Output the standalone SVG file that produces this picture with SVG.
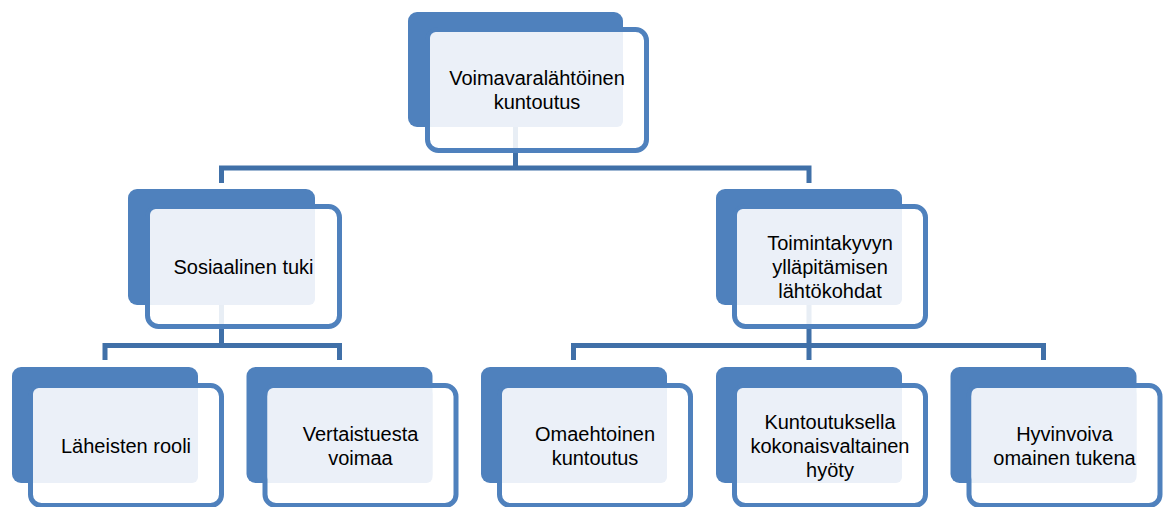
<svg xmlns="http://www.w3.org/2000/svg" width="1164" height="507" viewBox="0 0 1164 507">
  <style>
    .back { fill: #4F81BD; }
    .front { fill: #FFFFFF; fill-opacity: 0.88; stroke: #4F81BD; stroke-width: 5; }
    .light { fill: #EBF0F8; }
    .conn { fill: none; stroke: #4070A8; stroke-width: 5; stroke-linejoin: miter; }
    text { font-family: "Liberation Sans", Arial, sans-serif; font-size: 20px; fill: #000000; text-anchor: middle; }
  </style>
  <rect width="1164" height="507" fill="#FFFFFF"/>
  <g id="connectors">
    <path class="conn" d="M515.5,127 V168 M221.5,183 V168 H809 V183"/>
    <path class="conn" d="M221.5,305 V345.5 M105,360 V345.5 H339.5 V360"/>
    <path class="conn" d="M809,305 V360 M573.5,360 V345.5 H1043.5 V360"/>
  </g>
  <g id="node-top">
    <rect class="back" x="408" y="12" width="215" height="115" rx="9"/>
    <rect class="front" x="427.5" y="29.5" width="219" height="121" rx="11"/>
    <rect class="light" x="430" y="32" width="193" height="95" rx="6"/>
    <text x="537" y="85">Voimavaralähtöinen</text>
    <text x="537" y="109">kuntoutus</text>
  </g>
  <g id="node-sosiaalinen">
    <rect class="back" x="128" y="189" width="187" height="116" rx="9"/>
    <rect class="front" x="147.5" y="206.5" width="192" height="120" rx="11"/>
    <rect class="light" x="150" y="209" width="165" height="96" rx="6"/>
    <text x="243.5" y="273.5">Sosiaalinen tuki</text>
  </g>
  <g id="node-toimintakyky">
    <rect class="back" x="716" y="189" width="186" height="116" rx="9"/>
    <rect class="front" x="734.5" y="206.5" width="191" height="120" rx="11"/>
    <rect class="light" x="737" y="209" width="165" height="96" rx="6"/>
    <text x="830" y="249.5">Toimintakyvyn</text>
    <text x="830" y="273.5">ylläpitämisen</text>
    <text x="830" y="297.5">lähtökohdat</text>
  </g>
  <g id="node-laheiset">
    <rect class="back" x="12" y="367" width="186" height="116" rx="9"/>
    <rect class="front" x="30.5" y="385.5" width="191" height="120" rx="11"/>
    <rect class="light" x="33" y="388" width="165" height="95" rx="6"/>
    <text x="126" y="452.5">Läheisten rooli</text>
  </g>
  <g id="node-vertaistuki">
    <rect class="back" x="246.5" y="367" width="186" height="116" rx="9"/>
    <rect class="front" x="265" y="385.5" width="191" height="120" rx="11"/>
    <rect class="light" x="267.5" y="388" width="165" height="95" rx="6"/>
    <text x="360.5" y="440.5">Vertaistuesta</text>
    <text x="360.5" y="464.5">voimaa</text>
  </g>
  <g id="node-omaehtoinen">
    <rect class="back" x="481" y="367" width="186" height="116" rx="9"/>
    <rect class="front" x="499.5" y="385.5" width="191" height="120" rx="11"/>
    <rect class="light" x="502" y="388" width="165" height="95" rx="6"/>
    <text x="595" y="440.5">Omaehtoinen</text>
    <text x="595" y="464.5">kuntoutus</text>
  </g>
  <g id="node-kuntoutuksella">
    <rect class="back" x="716" y="367" width="186" height="116" rx="9"/>
    <rect class="front" x="734.5" y="385.5" width="191" height="120" rx="11"/>
    <rect class="light" x="737" y="388" width="165" height="95" rx="6"/>
    <text x="830" y="428.5">Kuntoutuksella</text>
    <text x="830" y="452.5">kokonaisvaltainen</text>
    <text x="830" y="476.5">hyöty</text>
  </g>
  <g id="node-hyvinvoiva">
    <rect class="back" x="950.5" y="367" width="186" height="116" rx="9"/>
    <rect class="front" x="969" y="385.5" width="191" height="120" rx="11"/>
    <rect class="light" x="971.5" y="388" width="165" height="95" rx="6"/>
    <text x="1064.5" y="440.5">Hyvinvoiva</text>
    <text x="1064.5" y="464.5">omainen tukena</text>
  </g>
</svg>
